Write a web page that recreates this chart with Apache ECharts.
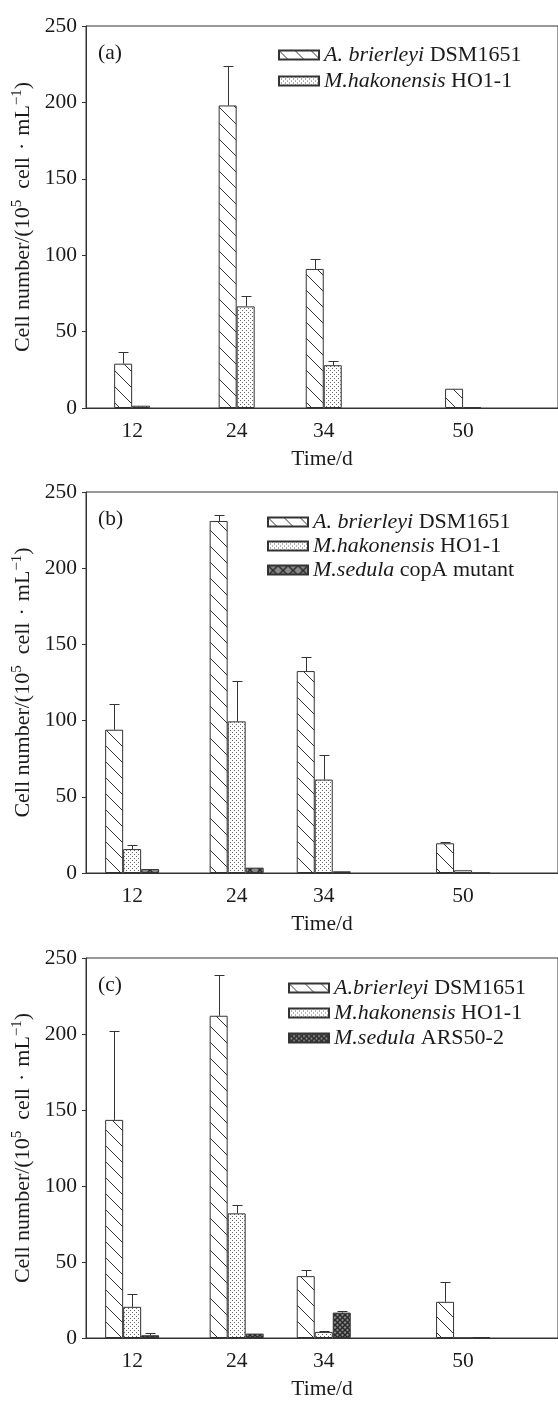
<!DOCTYPE html>
<html>
<head>
<meta charset="utf-8">
<script src="https://cdn.jsdelivr.net/npm/echarts@6/dist/echarts.min.js"></script>
<style>
html, body { margin: 0; padding: 0; background: #fff; }
#chart { width: 558px; height: 1401px; }
</style>
</head>
<body>
<div id="chart"></div>
<script>
// sampling days (x axis)
var days = [12, 24, 34, 50];

// panel (a)
var aBrierA = [29, 198, 91, 12.6];
var aBrierErrA = [7.5, 26, 6.5, 0];
var mHakoA = [1.5, 66.5, 28, 0.4];
var mHakoErrA = [0, 6.7, 2.8, 0];

// panel (b)
var aBrierB = [94, 231, 132.5, 19.5];
var aBrierErrB = [17, 4, 9.5, 1];
var mHakoB = [15.7, 99.5, 61.3, 1.8];
var mHakoErrB = [3, 26.5, 16.4, 0];
var mSedB = [2.6, 3.5, 1.1, 0];
var mSedErrB = [0, 0, 0, 0];

// panel (c)
var aBrierC = [143.5, 212, 40.7, 23.8];
var aBrierErrC = [58.8, 27, 3.8, 12.9];
var mHakoC = [20.5, 82, 4, 0];
var mHakoErrC = [8.6, 5.2, 0.8, 0];
var mSedC = [1.8, 2.9, 16.7, 0.5];
var mSedErrC = [1.5, 0, 0.9, 0];

var yTicks = [0, 50, 100, 150, 200, 250];

var FONT = 'Liberation Serif';
var INK = '#1a1a1a';
var LINE = '#333';
var BAR_W = 18;

function tile(w, h, draw) {
	var c = document.createElement('canvas');
	c.width = w;
	c.height = h;
	draw(c.getContext('2d'));
	return { image: c, repeat: 'repeat' };
}

var hatch = tile(16, 16, function(g) {
	g.fillStyle = '#fff';
	g.fillRect(0, 0, 16, 16);
	g.strokeStyle = '#333';
	g.lineWidth = 1;
	[-16, 0, 16].forEach(function(k) {
		g.beginPath();
		g.moveTo(k, 0);
		g.lineTo(k + 16, 16);
		g.stroke();
	});
});
var dots = tile(4, 4, function(g) {
	g.fillStyle = '#fff';
	g.fillRect(0, 0, 4, 4);
	g.fillStyle = '#666';
	g.fillRect(0, 0, 1, 1);
	g.fillRect(2, 2, 1, 1);
});
function cross(n) {
	return tile(n, n, function(g) {
		g.fillStyle = '#8a8a8a';
		g.fillRect(0, 0, n, n);
		g.strokeStyle = '#2a2a2a';
		g.lineWidth = 1.5;
		[-n, 0, n].forEach(function(k) {
			g.beginPath();
			g.moveTo(k, 0);
			g.lineTo(k + n, n);
			g.moveTo(k + n, 0);
			g.lineTo(k, n);
			g.stroke();
		});
	});
}
var crossBig = cross(10);
var crossSmall = cross(5);

var panels = [
	{ tag: '(a)', top: 26, height: 382, legendLeft: 273, legendTop: 39, legendGap: 4,
		series: [
			{ name: 'A. brierleyi DSM1651', vals: aBrierA, errs: aBrierErrA, fill: hatch },
			{ name: 'M.hakonensis HO1-1', vals: mHakoA, errs: mHakoErrA, fill: dots }
		] },
	{ tag: '(b)', top: 492, height: 381, legendLeft: 262, legendTop: 506, legendGap: 2,
		series: [
			{ name: 'A. brierleyi DSM1651', vals: aBrierB, errs: aBrierErrB, fill: hatch },
			{ name: 'M.hakonensis HO1-1', vals: mHakoB, errs: mHakoErrB, fill: dots },
			{ name: 'M.sedula copA mutant', vals: mSedB, errs: mSedErrB, fill: crossBig }
		] },
	{ tag: '(c)', top: 958, height: 384, legendLeft: 283, legendTop: 972, legendGap: 3,
		series: [
			{ name: 'A.brierleyi DSM1651', vals: aBrierC, errs: aBrierErrC, fill: hatch },
			{ name: 'M.hakonensis HO1-1', vals: mHakoC, errs: mHakoErrC, fill: dots },
			{ name: 'M.sedula ARS50-2', vals: mSedC, errs: mSedErrC, fill: crossSmall }
		] }
];

function renderErr(params, api) {
	var e = api.value(2);
	if (!(e > 0)) return;
	var x = api.value(0), y = api.value(1);
	var off = (api.value(3) - (api.value(4) - 1) / 2) * BAR_W;
	var p0 = api.coord([x, y]);
	var p1 = api.coord([x, y + e]);
	var cx = Math.round(p0[0] + off) + 0.5;
	var ty = Math.round(p1[1]) + 0.5;
	return {
		type: 'group',
		children: [
			{ type: 'line', shape: { x1: cx, y1: p0[1], x2: cx, y2: ty }, style: { stroke: LINE, lineWidth: 1 } },
			{ type: 'line', shape: { x1: cx - 5, y1: ty, x2: cx + 5, y2: ty }, style: { stroke: LINE, lineWidth: 1 } }
		]
	};
}

function legendLabel(name) {
	var m = name.match(/^(A\. ?\S+|\S+) (.*)$/);
	return '{i|' + m[1] + '} {n|' + m[2] + '}';
}

var option = {
	animation: false,
	backgroundColor: '#fff',
	title: [],
	legend: [],
	grid: [],
	xAxis: [],
	yAxis: [],
	series: []
};

panels.forEach(function(p, gi) {
	option.title.push({
		text: p.tag, left: 93, top: p.top + 10,
		textStyle: { fontFamily: FONT, fontSize: 21.5, fontWeight: 'normal', color: INK, lineHeight: 24 }
	});
	option.grid.push({
		left: 86, right: -4, top: p.top, height: p.height,
		show: true, borderColor: LINE, borderWidth: 1, backgroundColor: 'transparent'
	});
	option.xAxis.push({
		type: 'value', gridIndex: gi, min: 6.7, max: 60.9,
		name: 'Time/d', nameLocation: 'middle', nameGap: 40,
		nameTextStyle: { fontFamily: FONT, fontSize: 21.5, color: INK },
		axisLine: { show: true, lineStyle: { color: LINE, width: 1 } },
		axisTick: { show: false },
		splitLine: { show: false },
		axisLabel: { customValues: days, margin: 12, fontFamily: FONT, fontSize: 21.5, color: INK }
	});
	option.yAxis.push({
		type: 'value', gridIndex: gi, min: 0, max: 250, interval: 50,
		name: '{t|Cell number/(10}{s|5}{t|  cell}{d|·}{t|mL}{s|−1}{t|)}',
		nameLocation: 'middle', nameGap: 45, nameRotate: 90,
		nameTextStyle: {
			rich: {
				t: { fontFamily: FONT, fontSize: 22, color: INK, lineHeight: 26 },
				s: { fontFamily: FONT, fontSize: 15, color: INK, lineHeight: 15, verticalAlign: 'top' },
				d: { fontFamily: FONT, fontSize: 22, color: INK, lineHeight: 26, padding: [0, 7] }
			}
		},
		axisLine: { show: true, lineStyle: { color: LINE, width: 1 } },
		axisTick: { show: true, inside: false, length: 4, lineStyle: { color: LINE } },
		splitLine: { show: false },
		axisLabel: { customValues: yTicks, margin: 9, fontFamily: FONT, fontSize: 21.5, color: INK }
	});
	option.legend.push({
		orient: 'vertical', left: p.legendLeft, top: p.legendTop,
		itemWidth: 40, itemHeight: 9, itemGap: p.legendGap,
		selectedMode: false, icon: 'rect',
		data: p.series.map(function(s) { return s.name; }),
		formatter: legendLabel,
		textStyle: {
			color: INK, fontFamily: FONT, fontSize: 22, lineHeight: 22,
			rich: {
				i: { fontFamily: FONT, fontSize: 22, fontStyle: 'italic', color: INK, lineHeight: 22 },
				n: { fontFamily: FONT, fontSize: 22, color: INK, lineHeight: 22 }
			}
		}
	});
	var errData = [];
	var n = p.series.length;
	p.series.forEach(function(s, k) {
		option.series.push({
			type: 'bar', name: s.name, xAxisIndex: gi, yAxisIndex: gi,
			barWidth: BAR_W, barGap: '0%',
			itemStyle: { color: s.fill, borderColor: LINE, borderWidth: 1 },
			emphasis: { disabled: true },
			data: days.map(function(d, i) { return [d, s.vals[i]]; })
		});
		days.forEach(function(d, i) {
			errData.push([d, s.vals[i], s.errs[i], k, n]);
		});
	});
	option.series.push({
		type: 'custom', xAxisIndex: gi, yAxisIndex: gi, z: 5,
		renderItem: renderErr,
		encode: { x: 0, y: 1 },
		data: errData,
		silent: true
	});
});

var chart = echarts.init(document.getElementById('chart'));
chart.setOption(option);
window.addEventListener('resize', chart.resize);
</script>
</body>
</html>
